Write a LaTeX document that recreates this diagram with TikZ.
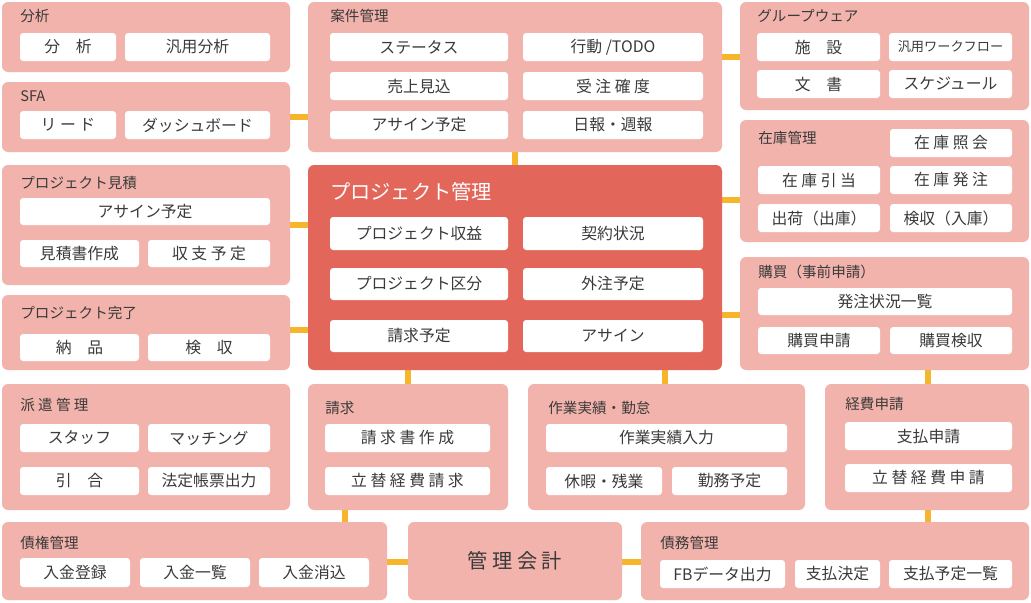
\documentclass[tikz,border=0pt]{standalone}
\usepackage{fontspec}
\setmainfont{Noto Sans CJK JP}
\usetikzlibrary{fit}
\definecolor{panelpink}{HTML}{F2B3AC}
\definecolor{mainred}{HTML}{E2675A}
\definecolor{linkyel}{HTML}{F7B52C}
\definecolor{txt}{HTML}{3A3A3A}
\newcommand\pnl[6]{\node[#1,fit={(#3,#4)(#5,#6)}] (#2) {};}
\newcommand\bx[6]{\node[box,fit={(#2,#3)(#4,#5)}] (#1) {};
  \node[inner sep=0pt] (#1-t) at (#1.center) {#6};}
\newcommand\ttl[4]{\node[ttl] (#1) at (#2,#3) {#4};}
\begin{document}
\begin{tikzpicture}[x=0.02cm,y=-0.02cm, font=\fontsize{9}{10}\selectfont, text=txt,
  panel/.style = {fill=panelpink,rounded corners=3.5pt,inner sep=0pt},
  center/.style = {fill=mainred,rounded corners=3.5pt,inner sep=0pt},
  box/.style = {fill=white,rounded corners=1.8pt,inner sep=0pt},
  ttl/.style = {anchor=west,inner sep=0pt,font=\fontsize{8.3}{10}\selectfont},
  link/.style = {draw=linkyel,line width=3pt}]
  \useasboundingbox (0,0) rectangle (1031,602);
  % connectors first
  \coordinate (c1) at (515,152); \coordinate (c2) at (515,165);
  \coordinate (c3) at (722,200); \coordinate (c4) at (740,200);
  \coordinate (c5) at (722,315); \coordinate (c6) at (740,315);
  \coordinate (c7) at (408,370); \coordinate (c8) at (408,384);
  \coordinate (c9) at (665,370); \coordinate (c10) at (665,384);
  \coordinate (c11) at (928,370); \coordinate (c12) at (928,384);
  \coordinate (c13) at (345,510); \coordinate (c14) at (345,522);
  \coordinate (c15) at (928,510); \coordinate (c16) at (928,522);
  \coordinate (c17) at (290,117); \coordinate (c18) at (308,117);
  \coordinate (c19) at (290,225); \coordinate (c20) at (308,225);
  \coordinate (c21) at (290,330); \coordinate (c22) at (308,330);
  \coordinate (c23) at (722,57); \coordinate (c24) at (740,57);
  \coordinate (c25) at (387,562); \coordinate (c26) at (408,562);
  \coordinate (c27) at (622,562); \coordinate (c28) at (641,562);
  \foreach \a/\b in {c1/c2,c3/c4,c5/c6,c7/c8,c9/c10,c11/c12,c13/c14,c15/c16,c17/c18,c19/c20,c21/c22,c23/c24,c25/c26,c27/c28}
    \draw[link] (\a) -- (\b);
  % panels
  \pnl{panel}{bunseki}{2}{2}{290}{72}
  \pnl{panel}{sfa}{2}{82}{290}{152}
  \pnl{panel}{mitsumori}{2}{165}{290}{285}
  \pnl{panel}{kanryo}{2}{295}{290}{370}
  \pnl{panel}{haken}{2}{384}{290}{510}
  \pnl{panel}{saiken}{2}{522}{387}{600}
  \pnl{panel}{kaikei}{408}{522}{622}{600}
  \pnl{panel}{saimu}{641}{522}{1029}{600}
  \pnl{panel}{anken}{308}{2}{722}{152}
  \pnl{center}{pj}{308}{165}{722}{370}
  \pnl{panel}{seikyu}{308}{384}{508}{510}
  \pnl{panel}{sagyo}{528}{384}{805}{510}
  \pnl{panel}{keihi}{825}{384}{1029}{510}
  \pnl{panel}{group}{740}{2}{1029}{110}
  \pnl{panel}{zaiko}{740}{120}{1029}{242}
  \pnl{panel}{kobai}{740}{257}{1029}{370}
  % titles
  \ttl{t1}{20}{16}{分析}
  \ttl{t2}{20}{96}{SFA}
  \ttl{t3}{20}{183}{プロジェクト見積}
  \ttl{t4}{20}{313}{プロジェクト完了}
  \ttl{t5}{20}{405}{派 遣 管 理}
  \ttl{t6}{20}{543}{債権管理}
  \ttl{t7}{660}{543}{債務管理}
  \ttl{t8}{330}{16}{案件管理}
  \ttl{t9}{325}{408}{請求}
  \ttl{t10}{548}{408}{作業実績・勤怠}
  \ttl{t11}{845}{404}{経費申請}
  \ttl{t12}{757}{16}{グループウェア}
  \ttl{t13}{758}{138}{在庫管理}
  \ttl{t14}{758}{272}{購買（事前申請）}
  \node[ttl,text=white,font=\fontsize{11.5}{13}\selectfont] (t15) at (330,192) {プロジェクト管理};
  \node[font=\fontsize{11.5}{13}\selectfont] (t16) at (kaikei) {管 理 会 計};
  % boxes
  \bx{b1}{20}{33}{116}{61}{分\quad 析}
  \bx{b2}{125}{33}{270}{61}{汎用分析}
  \bx{b3}{20}{111}{116}{139}{リ ー ド}
  \bx{b4}{125}{111}{270}{139}{ダッシュボード}
  \bx{b5}{20}{198}{270}{225}{アサイン予定}
  \bx{b6}{20}{240}{139}{267}{見積書作成}
  \bx{b7}{148}{240}{270}{267}{収 支 予 定}
  \bx{b8}{20}{334}{139}{361}{納\quad 品}
  \bx{b9}{148}{334}{270}{361}{検\quad 収}
  \bx{b10}{20}{424}{139}{452}{スタッフ}
  \bx{b11}{148}{424}{270}{452}{マッチング}
  \bx{b12}{20}{467}{139}{495}{引\quad 合}
  \bx{b13}{148}{467}{270}{495}{法定帳票出力}
  \bx{b14}{20}{558}{130}{587}{入金登録}
  \bx{b15}{140}{558}{250}{587}{入金一覧}
  \bx{b16}{259}{558}{369}{587}{入金消込}
  \bx{b17}{660}{560}{785}{588}{FBデータ出力}
  \bx{b18}{795}{560}{880}{588}{支払決定}
  \bx{b19}{889}{560}{1012}{588}{支払予定一覧}
  \bx{b20}{330}{33}{508}{61}{ステータス}
  \bx{b21}{523}{33}{703}{61}{行動 /TODO}
  \bx{b22}{330}{72}{508}{100}{売上見込}
  \bx{b23}{523}{72}{703}{100}{受 注 確 度}
  \bx{b24}{330}{111}{508}{139}{アサイン予定}
  \bx{b25}{523}{111}{703}{139}{日報・週報}
  \bx{b26}{330}{217}{508}{250}{プロジェクト収益}
  \bx{b27}{523}{217}{703}{250}{契約状況}
  \bx{b28}{330}{268}{508}{300}{プロジェクト区分}
  \bx{b29}{523}{268}{703}{300}{外注予定}
  \bx{b30}{330}{320}{508}{352}{請求予定}
  \bx{b31}{523}{320}{703}{352}{アサイン}
  \bx{b32}{325}{424}{490}{452}{請 求 書 作 成}
  \bx{b33}{325}{467}{490}{495}{立 替 経 費 請 求}
  \bx{b34}{546}{424}{787}{452}{作業実績入力}
  \bx{b35}{546}{467}{662}{495}{休暇・残業}
  \bx{b36}{672}{467}{787}{495}{勤務予定}
  \bx{b37}{845}{422}{1012}{450}{支払申請}
  \bx{b38}{845}{464}{1012}{492}{立 替 経 費 申 請}
  \bx{b39}{757}{33}{880}{61}{施\quad 設}
  \node[box,fit={(889,33)(1012,61)}] (b40) {};
  \node[inner sep=0pt,font=\fontsize{7.5}{9}\selectfont] (b40-t) at (b40.center) {汎用ワークフロー};
  \bx{b41}{757}{70}{880}{98}{文\quad 書}
  \bx{b42}{889}{70}{1012}{98}{スケジュール}
  \bx{b43}{890}{129}{1012}{157}{在 庫 照 会}
  \bx{b44}{758}{166}{880}{194}{在 庫 引 当}
  \bx{b45}{890}{166}{1012}{194}{在 庫 発 注}
  \bx{b46}{758}{204}{880}{232}{出荷（出庫）}
  \bx{b47}{890}{204}{1012}{232}{検収（入庫）}
  \bx{b48}{758}{288}{1012}{315}{発注状況一覧}
  \bx{b49}{758}{327}{880}{354}{購買申請}
  \bx{b50}{890}{327}{1012}{354}{購買検収}
\end{tikzpicture}
\end{document}
